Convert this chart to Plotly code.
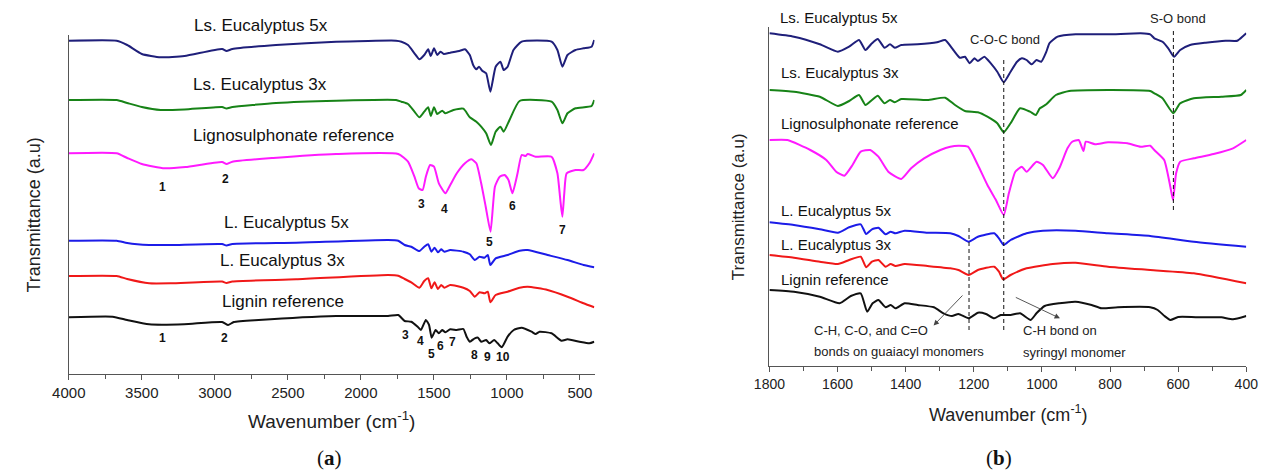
import plotly.graph_objects as go

# ---------------- Panel (a): full range 4000-400 cm-1 ----------------
ls5a_wn = [4000, 3672, 3600, 3500, 3371, 3208, 2950, 2920, 2880, 2581, 2169, 1759, 1722, 1677, 1633, 1599, 1566, 1539,
           1521, 1499, 1477, 1455, 1432, 1388, 1321, 1287, 1254, 1231, 1209, 1191, 1169, 1142, 1113, 1077, 1044, 1022,
           995, 955, 899, 694, 654, 620, 585, 530, 475, 420, 402]
ls5a_t = [333.3, 333.3, 329, 320, 316.7, 318, 325, 323, 325, 329, 332.3, 333.3, 332.3, 329, 320.7, 314.7, 319, 324.7,
          318, 325.7, 319, 322.3, 320, 321.3, 323.3, 324.7, 319, 309, 304.7, 307.3, 303.3, 300.7, 282.3, 307.3, 312.3,
          304, 307.3, 324, 332.3, 332.3, 324, 307.3, 319, 324, 325.7, 327.3, 334]

ls3a_wn = [4000, 3672, 3600, 3500, 3371, 3208, 2950, 2920, 2880, 2581, 2169, 1759, 1722, 1677, 1633, 1599, 1566, 1539,
           1521, 1499, 1477, 1443, 1421, 1366, 1298, 1254, 1209, 1176, 1142, 1109, 1077, 1044, 1022, 982, 913, 694,
           654, 620, 585, 530, 420, 402]
ls3a_t = [274, 274, 271, 267, 264, 264.5, 267, 265.5, 267, 271, 273.3, 274, 272.3, 270, 262.3, 256.7, 262.3, 266.7,
          258, 266.7, 260, 263.3, 260.7, 264, 265.3, 256.7, 252.3, 247.3, 240.7, 229, 242.3, 247.3, 242.3, 254, 273,
          272.3, 264, 250.7, 260.7, 265.7, 268, 274]

lsra_wn = [4000, 3672, 3600, 3500, 3344, 3200, 2950, 2920, 2880, 2600, 2169, 1744, 1677, 1633, 1604, 1577, 1555, 1526,
           1499, 1466, 1421, 1388, 1343, 1287, 1243, 1209, 1176, 1145, 1112, 1082, 1049, 1016, 989, 962, 927, 899,
           872, 858, 803, 694, 654, 634, 620, 607, 591, 530, 475, 435, 402]
lsra_t = [220.7, 220.7, 216, 210, 205.7, 207, 212, 210, 212.3, 216, 220, 220, 212.3, 197.3, 185.7, 184, 197.3, 209,
          207.3, 190.7, 180.7, 189, 200.7, 210.7, 214.7, 210.7, 190.7, 167.3, 142.3, 187.3, 197.3, 199, 194, 180.7,
          200.7, 219, 218, 220, 217.3, 217.3, 200.7, 174, 157.3, 180.7, 200.7, 204, 204, 210.7, 220.7]

l5a_wn = [4000, 3672, 3600, 3450, 3300, 2950, 2920, 2880, 2443, 1814, 1744, 1700, 1655, 1599, 1566, 1539, 1517, 1495,
          1472, 1450, 1428, 1388, 1298, 1254, 1220, 1187, 1154, 1131, 1113, 1077, 995, 913, 858, 721, 585, 475, 402]
l5a_t = [133.3, 133.3, 131, 129, 129, 130, 128.5, 130, 131.3, 134, 133.3, 129, 127.3, 123, 127.3, 129.7, 122.3, 126.3,
         121.7, 124.7, 122.3, 124, 122.3, 119.7, 114, 117.3, 116.3, 119, 109, 115.7, 119, 123.3, 124, 119, 114, 109,
         106.7]

l3a_wn = l5a_wn
l3a_t = [98, 98, 95, 90.7, 90.7, 92.5, 91, 92.5, 94.7, 99, 98.3, 95, 91.7, 86.3, 93, 95.7, 85.7, 91.7, 85, 89, 86.3,
         89, 86.3, 83, 77.3, 81.7, 80.7, 82.3, 71.7, 79, 82.3, 86.3, 87.3, 84, 77.3, 70.7, 66.7]

lga_wn = [4000, 3700, 3600, 3450, 3210, 2950, 2909, 2870, 2700, 2169, 1814, 1744, 1700, 1655, 1611, 1589, 1555, 1533,
          1515, 1488, 1466, 1443, 1421, 1388, 1343, 1298, 1276, 1254, 1220, 1198, 1176, 1142, 1120, 1087, 1063, 1035,
          995, 953, 899, 831, 803, 776, 694, 626, 585, 503, 435, 402]
lga_t = [56.7, 57.3, 54, 49.7, 49.7, 52, 49, 52, 54, 58, 58, 59, 53, 52.3, 47.3, 44, 54, 49, 36.3, 44, 40.7, 44, 41.7,
         44.7, 44, 45, 37.3, 32.3, 35.7, 36.3, 32.3, 34, 30.7, 34, 30.7, 26.7, 37.3, 44, 46.3, 42.3, 40, 42.3, 40.7,
         33.3, 34.7, 32.3, 30.7, 32.3]

# ---------------- Panel (b): 1800-400 cm-1 ----------------
ls5b_wn = [1800, 1728, 1652, 1599, 1566, 1537, 1518, 1499, 1482, 1462, 1446, 1432, 1413, 1365, 1308, 1284, 1260, 1241,
           1226, 1212, 1198, 1188, 1169, 1150, 1131, 1112, 1092, 1073, 1059, 1045, 1030, 1016, 1002, 987, 978, 954,
           901, 806, 710, 682, 670, 646, 629, 612, 594, 565, 519, 461, 426, 409, 400]
ls5b_t = [332.4, 329, 321.4, 314, 319, 325.7, 315.7, 322.4, 326.7, 318, 321.4, 318, 320.7, 321.4, 323.4, 325.7, 315.7,
          308, 309, 302.4, 307.4, 304.7, 309, 302.4, 294, 283.4, 294, 304, 307.4, 305.7, 301.4, 305.7, 304, 314, 322.4,
          329, 331.4, 331.4, 332.4, 331.4, 327.4, 324, 317.4, 309, 315.7, 320.7, 323, 325, 325, 329.7, 332.4]

ls3b_wn = [1800, 1728, 1652, 1599, 1566, 1537, 1518, 1499, 1482, 1462, 1446, 1432, 1413, 1336, 1284, 1255, 1226, 1188,
           1160, 1131, 1112, 1092, 1064, 1035, 1018, 1006, 987, 959, 920, 806, 682, 670, 646, 614, 594, 554, 473, 416,
           400]
ls3b_t = [275.7, 274, 269, 259.7, 264.7, 270.7, 260.7, 265.7, 270, 262.4, 265.7, 263.4, 266.7, 265.7, 268, 260.7, 254.7,
          253.4, 249, 242.4, 233.4, 242.4, 257.4, 254, 250.7, 257.4, 261.4, 270.7, 274.7, 275.7, 274.7, 272.4, 267.4,
          252.4, 262.4, 267.4, 269, 270.7, 275.7]

lsrb_wn = [1800, 1747, 1680, 1633, 1604, 1580, 1556, 1532, 1504, 1480, 1451, 1413, 1384, 1346, 1298, 1269, 1245, 1217,
           1188, 1160, 1135, 1112, 1097, 1078, 1059, 1045, 1016, 997, 968, 949, 925, 911, 892, 878, 871, 844, 806, 749,
           710, 682, 670, 641, 623, 615, 606, 594, 554, 496, 439, 400]
lsrb_t = [225.7, 225.7, 215.7, 205.7, 194, 190, 200.7, 214, 215.7, 209, 194, 186.7, 197.4, 207.4, 215.7, 219, 220, 219,
          200.7, 180.7, 165.7, 150.7, 172.4, 194, 199, 194, 204, 200.7, 187.4, 197.4, 217.4, 224, 225.7, 214.7, 224,
          221.4, 223.4, 222.4, 219, 220, 215.7, 205.7, 179, 165.7, 192.4, 204, 207.4, 211.7, 217.4, 225.7]

l5b_wn = [1800, 1728, 1652, 1599, 1566, 1532, 1516, 1499, 1480, 1459, 1444, 1430, 1403, 1336, 1269, 1245, 1215, 1188,
          1140, 1126, 1112, 1092, 1045, 997, 901, 806, 682, 554, 400]
l5b_t = [143.4, 140.7, 136.4, 133, 138.4, 141.4, 131.7, 136.4, 138, 131.4, 134, 132.4, 135, 133, 132.4, 129.7, 124, 129,
         132.4, 127.4, 120.7, 125.7, 132.4, 135, 135, 132.4, 129.7, 124, 119]

l3b_wn = [1800, 1728, 1652, 1599, 1566, 1532, 1516, 1499, 1480, 1459, 1444, 1430, 1403, 1336, 1269, 1245, 1215, 1188,
          1140, 1126, 1114, 1092, 1045, 968, 901, 806, 682, 554, 400]
l3b_t = [110.7, 108, 104, 101.7, 105.7, 109, 98.4, 104, 105.7, 99, 101.7, 99.7, 101.7, 99.7, 97.4, 95.7, 90.7, 95.7, 99,
         94, 86.4, 90.7, 97.4, 101.7, 103, 99, 95.7, 92.4, 82.4]

lgb_wn = [1800, 1728, 1652, 1594, 1561, 1532, 1513, 1497, 1480, 1459, 1444, 1430, 1403, 1365, 1317, 1289, 1264, 1245,
          1215, 1188, 1164, 1140, 1121, 1092, 1064, 1033, 1016, 992, 949, 901, 854, 825, 777, 682, 660, 640, 623, 600,
          531, 473, 439, 400]
lgb_t = [75.7, 74, 69, 62.4, 69.7, 72.4, 54, 62.4, 65.7, 58.4, 60.7, 57.4, 62.4, 60.7, 58.4, 52.4, 49.7, 51.7, 47.4, 53,
         51.7, 47.4, 50.7, 50.7, 52.4, 45.7, 52.4, 59.7, 62.4, 64, 60.7, 57.4, 58.4, 58.4, 55.7, 49.7, 45.7, 48.7, 48.4,
         48.4, 46.4, 49.7]

series_names = ["Ls. Eucalyptus 5x", "Ls. Eucalyptus 3x", "Lignosulphonate reference",
                "L. Eucalyptus 5x", "L. Eucalyptus 3x", "Lignin reference"]
colors = ["#1f1f7a", "#178317", "#ff1aff", "#1c1ce8", "#f01818", "#111111"]

# label anchor positions (wavenumber, a.u.) for series names
labels_a = [(3153, 348), (3166, 289), (3166, 238), (2953, 152), (2976, 114), (2963, 72.5)]
labels_b = [(1776, 348.4), (1771, 293.4), (1771, 241.7), (1771, 155.7), (1771, 120.7), (1771, 86.4)]

# peak numbers on panel (a)
peaks_ls_txt = ["1", "2", "3", "4", "5", "6", "7"]
peaks_ls_wn = [3357, 2929, 1587, 1426, 1120, 961, 620]
peaks_ls_t = [187.3, 195, 170, 165, 132.3, 168.3, 144]
peaks_lg_txt = ["1", "2", "3", "4", "5", "6", "7", "8", "9", "10"]
peaks_lg_wn = [3355, 2936, 1693, 1589, 1517, 1455, 1372, 1220, 1131, 1028]
peaks_lg_t = [35.7, 35.7, 39, 33.3, 19.7, 28.3, 31.7, 19, 17.3, 17.3]

# panel (b) bond annotations: (text, wavenumber, a.u.)
bond_texts = [("C-O-C bond", 1109, 325.7), ("S-O bond", 601, 346.7)]
# panel (b) marker lines: (wavenumber, top, bottom)
bond_lines = [(1112, 308.7, 35.7), (614, 335.7, 155.7), (1214, 139.7, 35.7)]

FONT = "Liberation Sans, Arial, sans-serif"
AX = "#555555"

# axis geometry (figure pixels)
W, H = 1270, 471
A_X0, A_X1, A_YT, A_YB = 53, 591, 35, 374
B_X0, B_X1, B_YT, B_YB = 770, 1258, 27.3, 365.7
A_RANGE_Y = [0, A_YB - A_YT]
B_RANGE_Y = [0, B_YB - B_YT]


def to_paper(ax, wn, t):
    """convert a data position to paper coordinates (for texts sitting above the plot frame)"""
    if ax == "a":
        x0, x1, xr, yb, yt, yr = A_X0, A_X1, (4000, 400), A_YB, A_YT, A_RANGE_Y
    else:
        x0, x1, xr, yb, yt, yr = B_X0, B_X1, (1800, 400), B_YB, B_YT, B_RANGE_Y
    px = x0 + (xr[0] - wn) / (xr[0] - xr[1]) * (x1 - x0)
    py = yb - (t - yr[0]) / (yr[1] - yr[0]) * (yb - yt)
    return px / W, 1 - py / H


fig = go.Figure()
pa = [(ls5a_wn, ls5a_t), (ls3a_wn, ls3a_t), (lsra_wn, lsra_t), (l5a_wn, l5a_t), (l3a_wn, l3a_t), (lga_wn, lga_t)]
pb = [(ls5b_wn, ls5b_t), (ls3b_wn, ls3b_t), (lsrb_wn, lsrb_t), (l5b_wn, l5b_t), (l3b_wn, l3b_t), (lgb_wn, lgb_t)]
for (wn, t), name, c in zip(pa, series_names, colors):
    fig.add_trace(go.Scatter(x=wn, y=t, mode="lines", name=name, xaxis="x", yaxis="y",
                             line=dict(color=c, width=2, shape="spline", smoothing=0.5), showlegend=False))
for (wn, t), name, c in zip(pb, series_names, colors):
    fig.add_trace(go.Scatter(x=wn, y=t, mode="lines", name=name, xaxis="x2", yaxis="y2",
                             line=dict(color=c, width=2, shape="spline", smoothing=0.5), showlegend=False))

ann = []
for name, (x, y) in zip(series_names, labels_a):
    px, py = to_paper("a", x, y)
    ann.append(dict(x=px, y=py, xref="paper", yref="paper", text=name, showarrow=False, xanchor="left",
                    yanchor="middle", font=dict(family=FONT, size=17, color="#111")))
for name, (x, y) in zip(series_names, labels_b):
    px, py = to_paper("b", x, y)
    ann.append(dict(x=px, y=py, xref="paper", yref="paper", text=name, showarrow=False, xanchor="left",
                    yanchor="middle", font=dict(family=FONT, size=15, color="#111")))
for txt, x, y in list(zip(peaks_ls_txt, peaks_ls_wn, peaks_ls_t)) + list(zip(peaks_lg_txt, peaks_lg_wn, peaks_lg_t)):
    ann.append(dict(x=x, y=y, xref="x", yref="y", text="<b>%s</b>" % txt, showarrow=False,
                    xanchor="center", yanchor="middle", font=dict(family=FONT, size=12, color="#111")))

small = dict(family=FONT, size=13, color="#222")
for txt, x, y in bond_texts:
    px, py = to_paper("b", x, y)
    ann.append(dict(x=px, y=py, xref="paper", yref="paper", text=txt, showarrow=False, xanchor="center",
                    yanchor="middle", font=small))
ann += [
    dict(x=1676, y=35.7, xref="x2", yref="y2", text="C-H, C-O, and C=O", showarrow=False, xanchor="left",
         yanchor="middle", font=small),
    dict(x=1676, y=14, xref="x2", yref="y2", text="bonds on guaiacyl monomers", showarrow=False, xanchor="left",
         yanchor="middle", font=small),
    dict(x=1062, y=35.7, xref="x2", yref="y2", text="C-H bond on", showarrow=False, xanchor="left",
         yanchor="middle", font=small),
    dict(x=1062, y=13, xref="x2", yref="y2", text="syringyl monomer", showarrow=False, xanchor="left",
         yanchor="middle", font=small),
    # arrows
    dict(x=1318, y=40.2, ax=1229, ay=71.7, xref="x2", yref="y2", axref="x2", ayref="y2", text="", showarrow=True,
         arrowhead=2, arrowsize=1.2, arrowwidth=0.9, arrowcolor="#444"),
    dict(x=947, y=47.4, ax=1081, ay=69, xref="x2", yref="y2", axref="x2", ayref="y2", text="", showarrow=True,
         arrowhead=2, arrowsize=1.2, arrowwidth=0.9, arrowcolor="#444"),
    # axis titles
    dict(x=322 / W, y=1 - 420 / H, xref="paper", yref="paper", text="Wavenumber (cm<sup>-1</sup>)",
         showarrow=False, xanchor="center", yanchor="middle", font=dict(family=FONT, size=19, color="#222")),
    dict(x=1015 / W, y=1 - 413 / H, xref="paper", yref="paper", text="Wavenumber (cm<sup>-1</sup>)",
         showarrow=False, xanchor="center", yanchor="middle", font=dict(family=FONT, size=18, color="#222")),
    dict(x=17 / W, y=1 - 215 / H, xref="paper", yref="paper", text="Transmittance (a.u)", textangle=-90,
         showarrow=False, xanchor="center", yanchor="middle", font=dict(family=FONT, size=18, color="#222")),
    dict(x=738 / W, y=1 - 207 / H, xref="paper", yref="paper", text="Transmittance (a.u)", textangle=-90,
         showarrow=False, xanchor="center", yanchor="middle", font=dict(family=FONT, size=17, color="#222")),
    dict(x=320 / W, y=1 - 458 / H, xref="paper", yref="paper", text="(<b>a</b>)", showarrow=False,
         xanchor="center", yanchor="middle", font=dict(family="Liberation Serif, serif", size=21, color="#111")),
    dict(x=1005 / W, y=1 - 458 / H, xref="paper", yref="paper", text="(<b>b</b>)", showarrow=False,
         xanchor="center", yanchor="middle", font=dict(family="Liberation Serif, serif", size=21, color="#111")),
]

shapes = []
for wn, top, bot in bond_lines:
    shapes.append(dict(type="line", xref="x2", yref="y2", x0=wn, x1=wn, y0=bot, y1=top,
                       line=dict(color="#111", width=1, dash="4px,3px")))

xa_common = dict(showline=True, linecolor=AX, linewidth=1, showgrid=False, zeroline=False, ticks="outside",
                 tickcolor=AX, tickwidth=1, mirror=False)
fig.update_layout(
    width=W, height=H, paper_bgcolor="white", plot_bgcolor="white",
    margin=dict(l=0, r=0, t=0, b=0),
    xaxis=dict(domain=[A_X0 / W, A_X1 / W], range=[4000, 400], anchor="y",
               tickvals=[4000, 3500, 3000, 2500, 2000, 1500, 1000, 500], ticklen=5,
               minor=dict(tickvals=[3750, 3250, 2750, 2250, 1750, 1250, 750], ticks="outside", ticklen=4,
                          tickcolor=AX),
               tickfont=dict(family=FONT, size=15, color="#222"), **xa_common),
    yaxis=dict(domain=[1 - A_YB / H, 1 - A_YT / H], range=A_RANGE_Y, anchor="x", showline=True, linecolor=AX,
               linewidth=1, showticklabels=False, ticks="", showgrid=False, zeroline=False),
    xaxis2=dict(domain=[B_X0 / W, B_X1 / W], range=[1800, 400], anchor="y2",
                tickvals=[1800, 1600, 1400, 1200, 1000, 800, 600, 400], ticklen=5,
                minor=dict(tickvals=[1700, 1500, 1300, 1100, 900, 700, 500], ticks="outside", ticklen=4,
                           tickcolor=AX),
                tickfont=dict(family=FONT, size=14, color="#222"), **xa_common),
    yaxis2=dict(domain=[1 - B_YB / H, 1 - B_YT / H], range=B_RANGE_Y, anchor="x2", showline=True,
                linecolor=AX, linewidth=1, showticklabels=False, ticks="", showgrid=False, zeroline=False),
    annotations=ann, shapes=shapes,
)

fig.write_html("out.html")
